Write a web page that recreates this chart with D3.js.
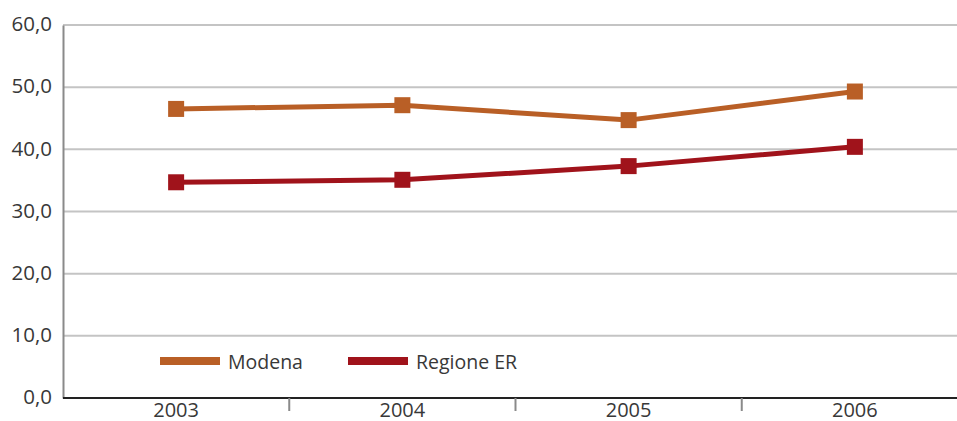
<!DOCTYPE html>
<html>
<head>
<meta charset="utf-8">
<script src="https://cdn.jsdelivr.net/npm/d3@7/dist/d3.min.js"></script>
<style>
  html, body { margin: 0; padding: 0; background: #fff; }
  svg { display: block; font-family: "Open Sans", "Noto Sans", sans-serif; }
</style>
</head>
<body>
<svg id="chart" width="957" height="421"></svg>
<script>
// Data
const years = ["2003", "2004", "2005", "2006"];
const modena = [46.5, 47.1, 44.7, 49.3];
const regioneER = [34.7, 35.1, 37.3, 40.4];
const yTicks = [0, 10, 20, 30, 40, 50, 60];
const seriesNames = ["Modena", "Regione ER"];
const seriesColors = ["#b95f26", "#a0131b"];

(function draw() {
  const svg = d3.select("#chart");
  const W = 957;
  const mLeft = 63, mTop = 25, mBottom = 398, mRight = 968;
  const textColor = "#383838";

  const x = d3.scaleBand().domain(years).range([mLeft, mRight]).padding(0);
  const y = d3.scaleLinear().domain([0, 60]).range([mBottom, mTop]);

  const fmt = v => d3.format(".1f")(v).replace(".", ",");

  // Horizontal gridlines
  svg.append("g")
    .selectAll("line")
    .data(yTicks.filter(t => t > 0))
    .join("line")
    .attr("x1", mLeft).attr("x2", W)
    .attr("y1", d => y(d)).attr("y2", d => y(d))
    .attr("stroke", "#c4c4c4").attr("stroke-width", 2);

  // Y axis
  const yAxis = svg.append("g")
    .attr("transform", `translate(${mLeft},0)`)
    .call(d3.axisLeft(y).tickValues(yTicks).tickFormat(fmt).tickSize(0).tickPadding(11));
  yAxis.select(".domain").attr("stroke", "#8a8a8a").attr("stroke-width", 2);
  yAxis.selectAll("text").attr("font-size", 20.5).attr("fill", textColor)
    .attr("dy", "0.28em")
    .attr("font-family", "Open Sans, Noto Sans, sans-serif");

  // X axis: baseline, separators between years, centred labels
  svg.append("line")
    .attr("x1", mLeft).attr("x2", W)
    .attr("y1", mBottom).attr("y2", mBottom)
    .attr("stroke", "#222").attr("stroke-width", 2);

  svg.append("g")
    .selectAll("line")
    .data(years.slice(1))
    .join("line")
    .attr("x1", d => x(d)).attr("x2", d => x(d))
    .attr("y1", mBottom).attr("y2", mBottom + 13)
    .attr("stroke", "#8a8a8a").attr("stroke-width", 2);

  svg.append("g")
    .selectAll("text")
    .data(years)
    .join("text")
    .attr("x", d => x(d) + x.bandwidth() / 2)
    .attr("y", 417)
    .attr("text-anchor", "middle")
    .attr("font-size", 20)
    .attr("fill", textColor)
    .text(d => d);

  // Series lines and square markers
  const cx = d => x(d) + x.bandwidth() / 2;
  const line = d3.line().x((d, i) => cx(years[i])).y(d => y(d));
  const allSeries = [modena, regioneER];

  allSeries.forEach((vals, si) => {
    const g = svg.append("g");
    g.append("path")
      .datum(vals)
      .attr("d", line)
      .attr("fill", "none")
      .attr("stroke", seriesColors[si])
      .attr("stroke-width", 5)
      .attr("stroke-linejoin", "round");
    const s = 16;
    g.selectAll("rect")
      .data(vals)
      .join("rect")
      .attr("x", (d, i) => cx(years[i]) - s / 2)
      .attr("y", d => y(d) - s / 2)
      .attr("width", s).attr("height", s)
      .attr("fill", seriesColors[si]);
  });

  // Legend
  const legendX = [160, 348];
  const legendY = 361;
  seriesNames.forEach((name, i) => {
    svg.append("rect")
      .attr("x", legendX[i]).attr("y", legendY - 4)
      .attr("width", 60).attr("height", 8)
      .attr("fill", seriesColors[i]);
    svg.append("text")
      .attr("x", legendX[i] + 68).attr("y", legendY + 8)
      .attr("font-size", 19.5).attr("fill", textColor)
      .text(name);
  });
})();
</script>
</body>
</html>
